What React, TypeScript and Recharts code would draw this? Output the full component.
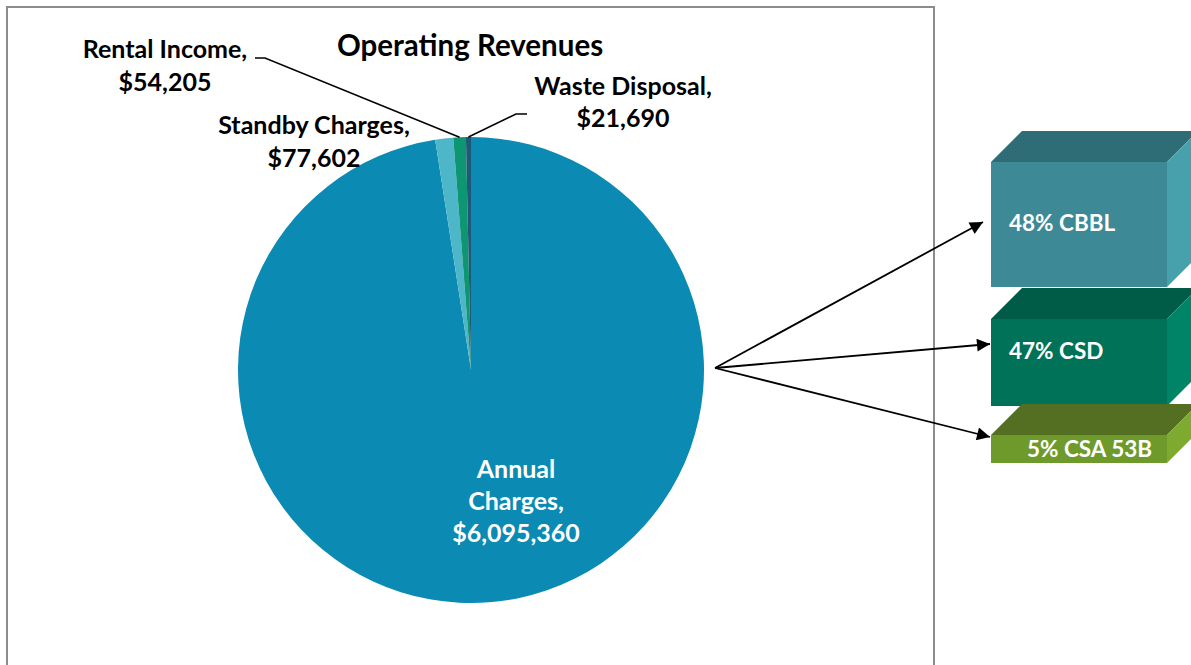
import React from 'react';
import { PieChart, Pie, Cell, Customized } from 'recharts';

// ---- data ----
const categories = ['Annual Charges', 'Standby Charges', 'Rental Income', 'Waste Disposal'];
const revenues = [6095360, 77602, 54205, 21690];
const sliceColors = ['#0B8AB3', '#4DB6C9', '#0E9673', '#1D5A78'];
const chartTitle = 'Operating Revenues';

const splitLabels = ['48% CBBL', '47% CSD', '5% CSA 53B'];
const splitColors = [
  { front: '#3D8995', top: '#2E6C76', side: '#46A1AD' },
  { front: '#007258', top: '#005B47', side: '#008467' },
  { front: '#6E9A2B', top: '#546F21', side: '#7DAA2F' },
];

const pieData = categories.map((name, i) => ({ name, value: revenues[i] }));

// ---- layout ----
const FONT = 'Lato, "Open Sans", sans-serif';
const W = 1191;
const H = 665;
const CX = 471;
const CY = 370;
const R = 233;

const labelLayout = [
  { x: 516, y: 478, dy: 32, lines: (n: string, v: string) => ['Annual', 'Charges,', v], fill: '#FFFFFF', leader: null },
  { x: 314, y: 134, dy: 33, lines: (n: string, v: string) => [n + ',', v], fill: '#000000', leader: null },
  { x: 165, y: 58, dy: 33, lines: (n: string, v: string) => [n + ',', v], fill: '#000000', leader: [[265, 58], [255, 58]] },
  { x: 623, y: 95, dy: 32, lines: (n: string, v: string) => [n + ',', v], fill: '#000000', leader: [[516, 114], [527, 114]] },
];

const boxLayout = [
  { x: 991, y: 162, w: 176, h: 125, tx: 1009, ty: 231 },
  { x: 991, y: 319, w: 176, h: 87, tx: 1009, ty: 359 },
  { x: 991, y: 435, w: 176, h: 28, tx: 1027, ty: 457 },
];
const DEPTH = 31;
const arrowOrigin = [715, 368];
const arrowTips = [[983, 222], [990, 344], [990, 437]];

const fmt = (v: number) => '$' + v.toLocaleString('en-US');

const renderLabel = (props: any) => {
  const { cx, cy, midAngle, outerRadius, index, value, name } = props;
  const L = labelLayout[index];
  const RAD = Math.PI / 180;
  const ex = cx + outerRadius * Math.cos(-midAngle * RAD);
  const ey = cy + outerRadius * Math.sin(-midAngle * RAD);
  const lines = L.lines(name, fmt(value));
  return (
    <g key={'lbl' + index}>
      {L.leader && (
        <polyline
          points={[[ex, ey], ...L.leader].map((p) => p.join(',')).join(' ')}
          fill="none"
          stroke="#000"
          strokeWidth={1.5}
        />
      )}
      {lines.map((t: string, i: number) => (
        <text
          key={i}
          x={L.x}
          y={L.y + i * L.dy}
          textAnchor="middle"
          fill={L.fill}
          fontFamily={FONT}
          fontWeight={700}
          fontSize={25}
        >
          {t}
        </text>
      ))}
    </g>
  );
};

const Decorations = () => (
  <g>
    <defs>
      <marker id="arrowHead2" viewBox="0 0 10 10" refX="10" refY="5" markerWidth="14" markerHeight="13" orient="auto" markerUnits="userSpaceOnUse">
        <path d="M0,0 L10,5 L0,10 z" fill="#000" />
      </marker>
    </defs>
    <rect x={7} y={7} width={927} height={700} fill="none" stroke="#8C8C8C" strokeWidth={2} />
    <text x={470} y={56} textAnchor="middle" fontFamily={FONT} fontWeight={700} fontSize={29.5} fill="#000">
      {chartTitle}
    </text>
    {arrowTips.map((t, i) => (
      <line
        key={'ar' + i}
        x1={arrowOrigin[0]}
        y1={arrowOrigin[1]}
        x2={t[0]}
        y2={t[1]}
        stroke="#000"
        strokeWidth={1.8}
        markerEnd="url(#arrowHead2)"
      />
    ))}
    {boxLayout.map((b, i) => {
      const c = splitColors[i];
      return (
        <g key={'box' + i}>
          <polygon
            points={`${b.x},${b.y} ${b.x + DEPTH},${b.y - DEPTH} ${b.x + b.w + DEPTH},${b.y - DEPTH} ${b.x + b.w},${b.y}`}
            fill={c.top}
          />
          <polygon
            points={`${b.x + b.w},${b.y} ${b.x + b.w + DEPTH},${b.y - DEPTH} ${b.x + b.w + DEPTH},${b.y + b.h - DEPTH} ${b.x + b.w},${b.y + b.h}`}
            fill={c.side}
          />
          <rect x={b.x} y={b.y} width={b.w} height={b.h} fill={c.front} />
          <text x={b.tx} y={b.ty} fontFamily={FONT} fontWeight={700} fontSize={22.5} fill="#FFFFFF">
            {splitLabels[i]}
          </text>
        </g>
      );
    })}
  </g>
);

export default function App() {
  return (
    <div style={{ position: 'absolute', left: 0, top: 0, width: W, height: H, background: '#fff' }}>
      <PieChart width={W} height={H} margin={{ top: 0, right: 0, bottom: 0, left: 0 }}>
        <Customized component={Decorations} />
        <Pie
          data={pieData}
          dataKey="value"
          nameKey="name"
          cx={CX}
          cy={CY}
          outerRadius={R}
          startAngle={90}
          endAngle={-270}
          stroke="none"
          isAnimationActive={false}
          label={renderLabel}
          labelLine={false}
        >
          {pieData.map((d, i) => (
            <Cell key={d.name} fill={sliceColors[i]} />
          ))}
        </Pie>
      </PieChart>
    </div>
  );
}
